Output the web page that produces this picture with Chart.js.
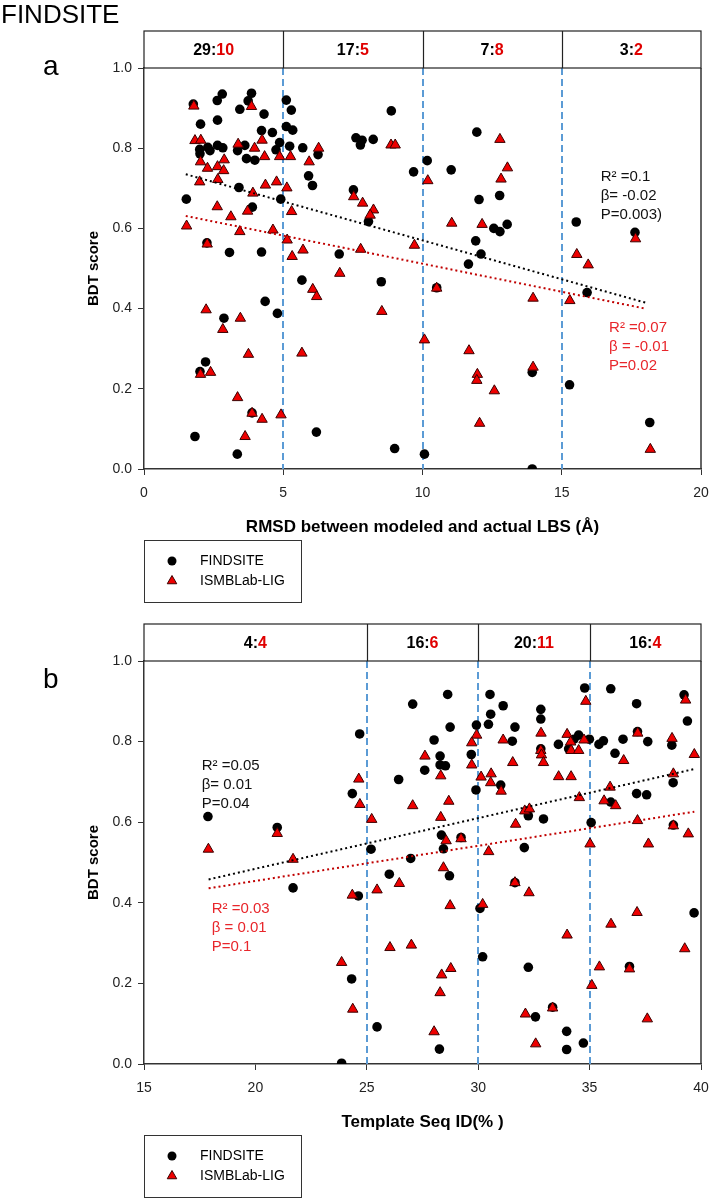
<!DOCTYPE html>
<html>
<head>
<meta charset="utf-8">
<script src="https://cdn.jsdelivr.net/npm/chart.js@4.4.1/dist/chart.umd.min.js"></script>
<style>
  body { margin: 0; background: #fff; width: 713px; height: 1200px; position: relative; overflow: hidden; }
  .panel { position: absolute; left: 0; width: 713px; }
</style>
</head>
<body>
<div class="panel" style="top:0;height:610px"><canvas id="chartA" width="713" height="610"></canvas></div>
<div class="panel" style="top:610px;height:590px"><canvas id="chartB" width="713" height="590"></canvas></div>
<script>
var FONT = 'Arial, "Liberation Sans", sans-serif';

// ---- panel a : RMSD vs BDT score ----
var aCuts = [5, 10, 15];
var aHeadBlack = ["29", "17", "7", "3"];
var aHeadRed = ["10", "5", "8", "2"];

var aFindX = [2.81, 2.63, 3.86, 3.74, 1.77, 3.44, 4.31, 5.11, 5.29, 8.88, 2.03, 2.64, 4.22, 4.61, 5.11, 5.34,
  7.61, 7.83, 8.23, 7.77, 2.00, 2.29, 2.37, 2.64, 2.83, 2.01, 3.36, 3.62, 3.68, 3.98, 4.74, 4.87, 5.23, 5.70,
  6.25, 10.17, 9.68, 5.91, 6.05, 3.41, 1.52, 4.91, 7.52, 3.89, 8.06, 2.26, 3.07, 4.22, 7.01, 5.67, 8.52, 4.35,
  4.79, 2.87, 2.21, 2.01, 3.88, 6.19, 1.83, 3.35, 9.00, 10.07, 11.95, 11.03, 12.03, 12.77, 15.52, 12.56, 12.78,
  13.04, 11.91, 12.10, 17.63, 11.65, 10.51, 15.91, 13.94, 15.28, 18.16, 13.94];
var aFindY = [0.935, 0.919, 0.937, 0.918, 0.910, 0.897, 0.885, 0.920, 0.895, 0.893, 0.860, 0.870, 0.844, 0.839, 0.854, 0.845,
  0.826, 0.820, 0.822, 0.808, 0.797, 0.802, 0.794, 0.807, 0.801, 0.786, 0.794, 0.807, 0.774, 0.770, 0.796, 0.814, 0.805, 0.801,
  0.784, 0.769, 0.741, 0.731, 0.707, 0.702, 0.673, 0.673, 0.696, 0.653, 0.617, 0.564, 0.540, 0.541, 0.536, 0.471, 0.467, 0.418,
  0.388, 0.376, 0.267, 0.243, 0.140, 0.092, 0.081, 0.037, 0.051, 0.037, 0.840, 0.746, 0.672, 0.682, 0.616, 0.600, 0.592,
  0.610, 0.569, 0.536, 0.590, 0.511, 0.452, 0.440, 0.241, 0.210, 0.116, 0.000];

var aLigX = [1.79, 3.86, 1.83, 2.04, 3.38, 4.24, 3.97, 4.33, 4.87, 5.26, 6.27, 5.93, 2.03, 2.88, 2.28, 2.64, 2.86,
  2.00, 2.65, 4.36, 4.76, 5.13, 3.91, 2.63, 3.12, 3.72, 1.53, 3.44, 4.63, 5.14, 5.30, 5.71, 7.53, 7.85, 8.24, 8.12,
  8.87, 9.02, 9.71, 10.19, 7.78, 2.27, 5.32, 7.03, 6.06, 6.20, 2.23, 3.46, 2.83, 8.54, 3.75, 5.67, 2.03, 2.39, 3.36,
  3.88, 4.24, 4.92, 3.63, 10.07, 12.78, 13.05, 12.82, 11.05, 12.14, 15.54, 17.65, 15.95, 10.51, 13.97, 15.29, 11.67,
  11.97, 11.95, 13.97, 12.58, 12.05, 18.18];
var aLigY = [0.905, 0.904, 0.819, 0.820, 0.810, 0.820, 0.800, 0.779, 0.779, 0.779, 0.800, 0.766, 0.766, 0.771, 0.750, 0.754, 0.744,
  0.716, 0.722, 0.708, 0.716, 0.701, 0.688, 0.654, 0.629, 0.643, 0.606, 0.592, 0.596, 0.571, 0.642, 0.546, 0.679, 0.663, 0.646, 0.633,
  0.808, 0.808, 0.558, 0.719, 0.548, 0.561, 0.530, 0.488, 0.448, 0.430, 0.397, 0.376, 0.348, 0.393, 0.286, 0.289, 0.236, 0.241, 0.178,
  0.139, 0.124, 0.135, 0.081, 0.322, 0.822, 0.751, 0.723, 0.613, 0.610, 0.535, 0.574, 0.509, 0.451, 0.426, 0.420, 0.295,
  0.236, 0.221, 0.254, 0.195, 0.114, 0.049];

var aTrendX = [1.5, 18.0];
var aTrendFind = [0.735, 0.415];
var aTrendLig = [0.631, 0.400];
var aNoteFind = ["R\u00b2 =0.1", "\u03b2= -0.02", "P=0.003)"];
var aNoteLig = ["R\u00b2 =0.07", "\u03b2 = -0.01", "P=0.02"];

// ---- panel b : template seq ID vs BDT score ----
var bCuts = [25, 30, 35];
var bHeadBlack = ["4", "16", "20", "16"];
var bHeadRed = ["4", "6", "11", "4"];

var bFindX = [27.06, 24.68, 26.43, 27.60, 24.35, 17.87, 20.98, 25.19, 26.97, 26.01, 21.69, 24.62, 24.32, 25.46, 23.87,
  28.63, 30.53, 31.12, 30.56, 30.46, 28.74, 29.92, 31.65, 28.02, 31.53, 32.81, 32.81, 34.78, 35.95, 37.11, 39.24, 39.39,
  33.60, 34.06, 34.30, 34.51, 34.99, 35.42, 35.62, 36.50, 37.15, 37.61, 38.69, 36.14, 32.81, 28.29, 28.29, 28.53, 29.69,
  29.90, 31.01, 38.75, 37.11, 37.56, 35.95, 32.25, 32.93, 35.07, 28.35, 29.23, 28.44, 32.07, 28.71, 38.76, 31.65, 30.08,
  39.69, 30.20, 32.25, 36.79, 33.34, 32.57, 33.97, 34.72, 33.97, 28.26];
var bFindY = [0.893, 0.819, 0.706, 0.729, 0.671, 0.614, 0.587, 0.533, 0.510, 0.471, 0.437, 0.417, 0.211, 0.092, 0.002,
  0.917, 0.917, 0.889, 0.868, 0.843, 0.836, 0.841, 0.836, 0.804, 0.801, 0.880, 0.856, 0.933, 0.931, 0.894, 0.916, 0.851,
  0.793, 0.782, 0.806, 0.816, 0.806, 0.793, 0.802, 0.806, 0.825, 0.800, 0.791, 0.771, 0.782, 0.764, 0.742, 0.740, 0.768,
  0.680, 0.692, 0.698, 0.671, 0.668, 0.650, 0.616, 0.608, 0.599, 0.568, 0.562, 0.534, 0.537, 0.467, 0.593, 0.450, 0.386,
  0.375, 0.266, 0.240, 0.242, 0.141, 0.117, 0.081, 0.052, 0.036, 0.037];

var bLigX = [27.61, 24.64, 24.69, 27.06, 25.22, 20.98, 17.89, 21.69, 24.35, 25.46, 26.46, 26.04, 27.00, 23.87, 24.37,
  34.83, 39.31, 29.93, 29.71, 31.12, 32.82, 33.99, 34.15, 34.75, 32.81, 32.84, 32.93, 34.17, 34.51, 37.16, 38.70, 39.70,
  36.53, 31.55, 29.71, 28.32, 30.13, 30.58, 30.56, 31.03, 33.61, 34.17, 38.76, 35.92, 28.68, 34.54, 35.65, 36.17, 32.09,
  32.30, 28.32, 31.68, 37.15, 38.76, 39.43, 28.56, 29.23, 35.02, 37.64, 30.47, 28.44, 31.65, 32.28, 28.74, 30.20, 37.13,
  35.96, 33.99, 39.27, 28.77, 28.36, 35.44, 36.79, 28.29, 35.10, 33.34, 32.12, 37.59, 28.02, 32.58];
var bLigY = [0.764, 0.707, 0.644, 0.641, 0.607, 0.572, 0.533, 0.508, 0.419, 0.432, 0.448, 0.289, 0.295, 0.252, 0.136,
  0.900, 0.903, 0.816, 0.797, 0.804, 0.821, 0.818, 0.799, 0.804, 0.778, 0.767, 0.748, 0.778, 0.778, 0.821, 0.808, 0.768,
  0.753, 0.748, 0.742, 0.715, 0.712, 0.720, 0.698, 0.677, 0.713, 0.713, 0.720, 0.687, 0.652, 0.661, 0.653, 0.641, 0.628,
  0.633, 0.612, 0.595, 0.604, 0.591, 0.571, 0.554, 0.559, 0.546, 0.546, 0.527, 0.487, 0.450, 0.425, 0.393, 0.396, 0.376,
  0.347, 0.320, 0.286, 0.237, 0.221, 0.241, 0.236, 0.177, 0.195, 0.139, 0.124, 0.112, 0.080, 0.050];

var bTrendX = [17.9, 39.7];
var bTrendFind = [0.458, 0.732];
var bTrendLig = [0.436, 0.626];
var bNoteFind = ["R\u00b2 =0.05", "\u03b2= 0.01", "P=0.04"];
var bNoteLig = ["R\u00b2 =0.03", "\u03b2 = 0.01", "P=0.1"];

var seriesNames = ["FINDSITE", "ISMBLab-LIG"];

function pts(xs, ys) {
  return xs.map(function (v, i) { return { x: v, y: ys[i] }; });
}

var LIG_FILL = "#ee0000";
var LIG_EDGE = "#3a0000";
var BLUE_DASH = "#5b9bd5";

// header boxes, dashed bin lines, frame, notes, legend, letters
var panelDecor = {
  id: "panelDecor",
  beforeDatasetsDraw: function (chart, args, o) {
    var ctx = chart.ctx, ca = chart.chartArea, x = chart.scales.x;
    ctx.save();
    ctx.strokeStyle = BLUE_DASH;
    ctx.lineWidth = 2;
    ctx.setLineDash([7, 4]);
    o.cuts.forEach(function (v) {
      var px = Math.round(x.getPixelForValue(v));
      ctx.beginPath();
      ctx.moveTo(px, ca.top);
      ctx.lineTo(px, ca.bottom);
      ctx.stroke();
    });
    ctx.restore();
  },
  afterDraw: function (chart, args, o) {
    var ctx = chart.ctx, ca = chart.chartArea, x = chart.scales.x, y = chart.scales.y;
    ctx.save();

    // right frame line
    ctx.strokeStyle = "#333";
    ctx.lineWidth = 1.5;
    ctx.beginPath();
    ctx.moveTo(ca.right, ca.top);
    ctx.lineTo(ca.right, ca.bottom);
    ctx.stroke();

    // header box
    ctx.strokeStyle = "#222";
    ctx.lineWidth = 1.2;
    ctx.strokeRect(ca.left, o.headTop, ca.right - ca.left, ca.top - o.headTop);
    var edges = [x.min].concat(o.cuts, [x.max]);
    o.cuts.forEach(function (v) {
      var px = Math.round(x.getPixelForValue(v)) + 0.5;
      ctx.beginPath();
      ctx.moveTo(px, o.headTop);
      ctx.lineTo(px, ca.top);
      ctx.stroke();
    });
    ctx.font = "bold 16px " + FONT;
    ctx.textBaseline = "middle";
    ctx.textAlign = "left";
    var cy = (o.headTop + ca.top) / 2 + 1;
    for (var i = 0; i < o.headBlack.length; i++) {
      var cx = (x.getPixelForValue(edges[i]) + x.getPixelForValue(edges[i + 1])) / 2;
      var t1 = o.headBlack[i] + ":", t2 = o.headRed[i];
      var w1 = ctx.measureText(t1).width, w2 = ctx.measureText(t2).width;
      var sx = cx - (w1 + w2) / 2;
      ctx.fillStyle = "#000";
      ctx.fillText(t1, sx, cy);
      ctx.fillStyle = "#e00000";
      ctx.fillText(t2, sx + w1, cy);
    }

    // regression notes
    ctx.font = "15px " + FONT;
    o.notes.forEach(function (n) {
      var nx = x.getPixelForValue(n.x), ny = y.getPixelForValue(n.y);
      ctx.fillStyle = n.color;
      n.lines.forEach(function (line, k) {
        ctx.fillText(line, nx, ny + k * 19);
      });
    });

    // legend box
    var L = o.legend;
    ctx.strokeStyle = "#333";
    ctx.lineWidth = 1;
    ctx.strokeRect(ca.left + 0.5, L.top + 0.5, 157, 62);
    var y1 = L.top + 21, y2 = L.top + 41, mx = ca.left + 28;
    ctx.fillStyle = "#000";
    ctx.beginPath();
    ctx.arc(mx, y1, 4.5, 0, Math.PI * 2);
    ctx.fill();
    var r = 5.5;
    ctx.beginPath();
    ctx.moveTo(mx, y2 - r);
    ctx.lineTo(mx + r * 0.866, y2 + r / 2);
    ctx.lineTo(mx - r * 0.866, y2 + r / 2);
    ctx.closePath();
    ctx.fillStyle = LIG_FILL;
    ctx.fill();
    ctx.strokeStyle = LIG_EDGE;
    ctx.stroke();
    ctx.fillStyle = "#000";
    ctx.font = "14px " + FONT;
    ctx.fillText(seriesNames[0], mx + 28, y1);
    ctx.fillText(seriesNames[1], mx + 28, y2);

    // panel letter / figure title
    ctx.textBaseline = "alphabetic";
    ctx.font = "28px " + FONT;
    ctx.fillText(o.letter, 43, o.letterY);
    if (o.title) {
      ctx.font = "26px " + FONT;
      ctx.fillText(o.title, 1, 23);
    }
    ctx.restore();
  }
};

function makeConfig(p) {
  return {
    type: "scatter",
    data: {
      datasets: [
        {
          type: "line", label: "fit FINDSITE", data: pts(p.trendX, p.trendFind),
          borderColor: "#000", borderWidth: 2, borderDash: [2, 3], pointRadius: 0, fill: false, order: 0
        },
        {
          type: "line", label: "fit ISMBLab-LIG", data: pts(p.trendX, p.trendLig),
          borderColor: "#c00000", borderWidth: 2, borderDash: [2, 3], pointRadius: 0, fill: false, order: 0
        },
        {
          label: seriesNames[1], data: pts(p.ligX, p.ligY), pointStyle: "triangle",
          pointRadius: 6, backgroundColor: LIG_FILL, borderColor: LIG_EDGE, borderWidth: 1, order: 1
        },
        {
          label: seriesNames[0], data: pts(p.findX, p.findY), pointStyle: "circle",
          pointRadius: 4.8, backgroundColor: "#000", borderColor: "#000", borderWidth: 0, order: 2
        }
      ]
    },
    options: {
      responsive: false,
      animation: false,
      events: [],
      layout: { padding: { left: 0, right: 12, top: p.padTop, bottom: p.padBottom } },
      scales: {
        x: {
          type: "linear", min: p.xMin, max: p.xMax,
          ticks: { stepSize: 5, color: "#222", font: { size: 14, family: FONT }, padding: 10 },
          grid: { drawOnChartArea: false, drawTicks: true, tickLength: 6, color: "#333" },
          border: { display: true, color: "#333", width: 1.5 },
          title: { display: true, text: p.xTitle, color: "#000", font: { size: 17, weight: "bold", family: FONT }, padding: { top: 0, bottom: 0 } },
          afterFit: function (s) { s.height = 69; s.paddingLeft = 0; s.paddingRight = 0; }
        },
        y: {
          type: "linear", min: 0, max: 1,
          ticks: { stepSize: 0.2, color: "#222", font: { size: 14, family: FONT }, padding: 6,
            callback: function (v) { return v.toFixed(1); } },
          grid: { drawOnChartArea: false, drawTicks: true, tickLength: 6, color: "#333" },
          border: { display: true, color: "#333", width: 1.5 },
          title: { display: true, text: "BDT score", color: "#000", font: { size: 15, weight: "bold", family: FONT }, padding: { top: 85, bottom: 0 } },
          afterFit: function (s) { s.width = 144; s.paddingTop = 0; s.paddingBottom = 0; }
        }
      },
      plugins: {
        legend: { display: false },
        tooltip: { enabled: false },
        panelDecor: {
          cuts: p.cuts, headBlack: p.headBlack, headRed: p.headRed, headTop: p.headTop,
          notes: p.notes, legend: { top: p.legendTop }, letter: p.letter, letterY: p.letterY, title: p.title
        }
      }
    },
    plugins: [panelDecor]
  };
}

var chartA = new Chart(document.getElementById("chartA"), makeConfig({
  findX: aFindX, findY: aFindY, ligX: aLigX, ligY: aLigY,
  trendX: aTrendX, trendFind: aTrendFind, trendLig: aTrendLig,
  xMin: 0, xMax: 20, xTitle: "RMSD between modeled and actual LBS (\u00c5)",
  cuts: aCuts, headBlack: aHeadBlack, headRed: aHeadRed,
  padTop: 68, padBottom: 72, headTop: 31, legendTop: 540,
  notes: [
    { x: 16.4, y: 0.728, lines: aNoteFind, color: "#111" },
    { x: 16.7, y: 0.351, lines: aNoteLig, color: "#e8262b" }
  ],
  letter: "a", letterY: 75, title: "FINDSITE"
}));

var chartB = new Chart(document.getElementById("chartB"), makeConfig({
  findX: bFindX, findY: bFindY, ligX: bLigX, ligY: bLigY,
  trendX: bTrendX, trendFind: bTrendFind, trendLig: bTrendLig,
  xMin: 15, xMax: 40, xTitle: "Template Seq ID(% )",
  cuts: bCuts, headBlack: bHeadBlack, headRed: bHeadRed,
  padTop: 51, padBottom: 67, headTop: 14, legendTop: 525,
  notes: [
    { x: 17.59, y: 0.739, lines: bNoteFind, color: "#111" },
    { x: 18.04, y: 0.386, lines: bNoteLig, color: "#e8262b" }
  ],
  letter: "b", letterY: 78, title: null
}));
</script>
</body>
</html>
